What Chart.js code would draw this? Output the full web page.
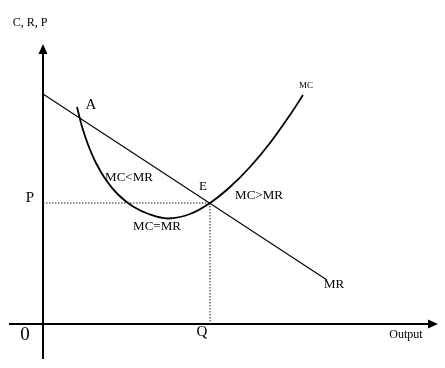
<!DOCTYPE html>
<html>
<head>
<meta charset="utf-8">
<script src="https://cdn.jsdelivr.net/npm/chart.js@4"></script>
<style>
  html, body { margin: 0; padding: 0; background: #fff; }
  #grafico { display: block; }
</style>
</head>
<body>
<canvas id="grafico" width="445" height="368"></canvas>
<script>
// Curva de coste marginal (MC)
var mcX = [3.4, 3.9, 4.5, 5.3, 6.3, 7.5, 9.0, 10.7, 12.5, 14.7, 16.7, 18.7, 20.7, 22.7, 24.7, 26.0];
var mcY = [21.7, 19.75, 17.95, 16.1, 14.4, 12.95, 11.75, 10.95, 10.55, 11.0, 12.1, 13.7, 15.7, 18.1, 20.9, 22.9];

// Recta de ingreso marginal (MR)
var mrX = [0, 28.4];
var mrY = [23.0, 4.4];

// Punto de equilibrio E
var eqQ = 16.7;
var eqP = 12.1;

// Extremos de los ejes
var ejeX = [-3.4, 39.5];
var ejeY = [-3.5, 28.0];

// Textos del gráfico: [texto, x, y] (centro del texto)
var etiquetas = [
    ["C, R, P", -1.3, 30.1],
    ["A", 4.8, 21.9],
    ["MC<MR", 8.6, 14.6],
    ["E", 16.0, 13.7],
    ["MC>MR", 21.6, 12.8],
    ["P", -1.3, 12.6],
    ["MC=MR", 11.4, 9.7],
    ["MC", 26.3, 23.8],
    ["MR", 29.1, 3.9],
    ["0", -1.8, -1.1],
    ["Q", 15.9, -0.8],
    ["Output", 36.3, -1.1]
];

function puntos(xs, ys) {
    var res = [];
    for (var i = 0; i < xs.length; i++) {
        res.push({ x: xs[i], y: ys[i] });
    }
    return res;
}

// Dibuja los ejes con flechas y los textos
var pluginEjes = {
    id: "ejes",
    beforeDatasetsDraw: function(chart) {
        var ctx = chart.ctx;
        var sx = chart.scales.x, sy = chart.scales.y;
        var x0 = sx.getPixelForValue(0), y0 = sy.getPixelForValue(0);
        var xi = sx.getPixelForValue(ejeX[0]), xf = sx.getPixelForValue(ejeX[1]);
        var yi = sy.getPixelForValue(ejeY[0]), yf = sy.getPixelForValue(ejeY[1]);
        ctx.save();
        ctx.strokeStyle = "#000";
        ctx.fillStyle = "#000";
        ctx.lineWidth = 2;
        ctx.beginPath();
        ctx.moveTo(xi, y0);
        ctx.lineTo(xf - 8, y0);
        ctx.moveTo(x0, yi);
        ctx.lineTo(x0, yf + 8);
        ctx.stroke();
        // flecha eje x
        ctx.beginPath();
        ctx.moveTo(xf, y0);
        ctx.lineTo(xf - 10, y0 - 4.5);
        ctx.lineTo(xf - 10, y0 + 4.5);
        ctx.closePath();
        ctx.fill();
        // flecha eje y
        ctx.beginPath();
        ctx.moveTo(x0, yf);
        ctx.lineTo(x0 - 4.5, yf + 10);
        ctx.lineTo(x0 + 4.5, yf + 10);
        ctx.closePath();
        ctx.fill();
        ctx.restore();
    },
    afterDatasetsDraw: function(chart) {
        var ctx = chart.ctx;
        var sx = chart.scales.x, sy = chart.scales.y;
        ctx.save();
        ctx.fillStyle = "#000";
        ctx.textBaseline = "middle";
        ctx.textAlign = "center";
        for (var i = 0; i < etiquetas.length; i++) {
            var t = etiquetas[i];
            var tam = 13;
            if (t[0] === "MC") tam = 9;
            if (t[0] === "A" || t[0] === "P" || t[0] === "Q") tam = 15;
            if (t[0] === "0") tam = 19;
            if (t[0] === "C, R, P" || t[0] === "Output") tam = 12;
            ctx.font = tam + "px 'Liberation Serif'";
            ctx.fillText(t[0], sx.getPixelForValue(t[1]), sy.getPixelForValue(t[2]));
        }
        ctx.restore();
    }
};

var config = {
    type: "scatter",
    data: {
        datasets: [
            {
                label: "MC",
                data: puntos(mcX, mcY),
                showLine: true,
                borderColor: "#000",
                borderWidth: 1.8,
                pointRadius: 0,
                tension: 0.35
            },
            {
                label: "MR",
                data: puntos(mrX, mrY),
                showLine: true,
                borderColor: "#000",
                borderWidth: 1.1,
                pointRadius: 0
            },
            {
                label: "P",
                data: [{ x: 0, y: eqP }, { x: eqQ, y: eqP }],
                showLine: true,
                borderColor: "#222",
                borderWidth: 1,
                borderDash: [1.5, 1.5],
                pointRadius: 0
            },
            {
                label: "Q",
                data: [{ x: eqQ, y: eqP }, { x: eqQ, y: 0 }],
                showLine: true,
                borderColor: "#222",
                borderWidth: 1,
                borderDash: [1.5, 1.5],
                pointRadius: 0
            }
        ]
    },
    options: {
        responsive: false,
        animation: false,
        layout: { padding: 0 },
        plugins: {
            legend: { display: false },
            tooltip: { enabled: false }
        },
        scales: {
            x: { type: "linear", min: -4.3, max: 40.2, display: false },
            y: { type: "linear", min: -4.4, max: 32.4, display: false }
        }
    },
    plugins: [pluginEjes]
};

new Chart(document.getElementById("grafico").getContext("2d"), config);
</script>
</body>
</html>
